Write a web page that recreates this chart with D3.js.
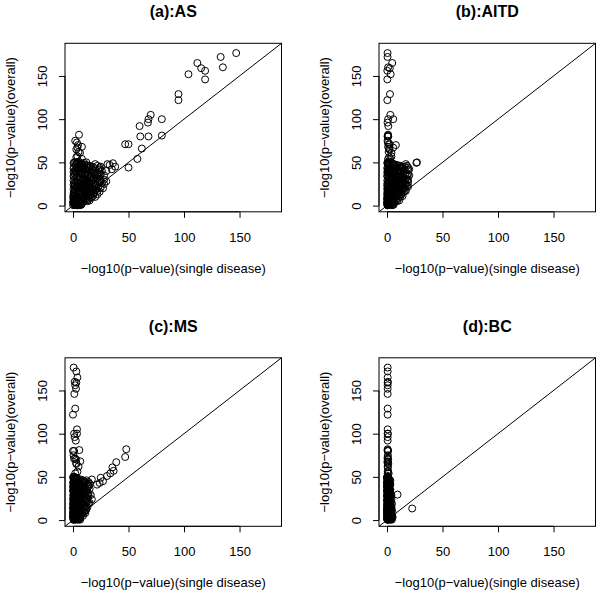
<!DOCTYPE html>
<html><head><meta charset="utf-8">
<script src="https://cdn.jsdelivr.net/npm/d3@7/dist/d3.min.js"></script>
<style>
body{margin:0;background:#fff}
svg text{font-family:"Liberation Sans",Arial,Helvetica,sans-serif;fill:#000}
</style>
</head><body>
<svg id="chart" width="601" height="595"></svg>
<script>
// -log10(p-value) for the overall test (same SNPs in every panel)
const overall = [
176.5,172,165,160,159,156,152,146,129,122,105,100,100,96,92,82,81,80,80,73,
75,71,71,70,67,68,66,65,61,62,57,56,54,54,51,49,50,49.5,49,48,44,47,42,45,40,45,43,41,47,29.5,13.4,
50,49,48,47,46,45,50,48,46,45,49,47,45,50,46,48,44,47,49,45,
44,43,42,41,40,44,43,42,41,40,44,43,42,41,40,43,41,42,40,44,
39,38,37,36,35,39,38,37,36,35,39,38,37,36,35,38,36,37,35,39,
34,33,32,31,30,34,33,32,31,30,34,33,32,31,30,33,31,32,30,34,
29,28,27,26,25,29,28,27,26,25,29,28,27,26,25,28,26,27,25,29,28,26,27,25,29,
24,23,22,21,20,24,23,22,21,20,24,23,22,21,20,23,21,22,20,24,23,21,22,20,24,
19,18,17,16,15,19,18,17,16,15,19,18,17,16,15,18,16,17,15,19,18,16,17,15,19,
14,13,12,11,10,14,13,12,11,10,14,13,12,11,10,13,11,12,10,14,13,11,12,10,14,
9,8,7,6,5,9,8,7,6,5,9,8,7,6,5,8,6,7,5,9,8,6,7,5,9,
4,3,2,1,0.5,4,3,2,1,0.5,4,3,2,1,0.5,3,1,2,0.5,4,3,1,2,0.3,4.5
];
// -log10(p-value) for each single disease
const singleAS = [
147,133,112,135,115.5,119,104,119,95,95,70,68,80,67.5,60,5.4,80,60.6,68,3.5,
2,47,50,4.5,4,8,62,3,6.3,5,4,3,58,8,5,3,12,10,36,31,50,33,35,38,30,6,4,5,3,10,6,
2,5,8,12,15,18,1,3,22,10,0.5,6,25,4,13,20,24,9,7,16,
1,3,6,9,12,14,17,20,23,26,4,8,11,15,19,0.5,2,24,7,13,
2,5,8,11,14,16,19,22,25,28,0.5,3,7,10,13,17,20,1,24,12,
1,4,7,10,13,16,19,22,25,28,0.5,3,6,9,12,15,18,21,24,11,
0.5,2,4,6,8,10,12,14,16,18,20,22,24,26,28,30,1,3,5,7,9,11,13,15,17,
0.5,1.5,3,5,7,9,11,13,15,17,19,21,23,25,27,2,4,6,8,10,12,14,16,18,20,
0.5,1.5,3,4.5,6,8,10,12,14,16,18,20,22,24,1,2,5,7,9,11,13,15,17,19,21,
0.5,1,2,3,4,5.5,7,8.5,10,11.5,13,14.5,16,18,20,22,0.3,1.5,2.5,6,9,12,15,17,19,
0.3,0.8,1.5,2.2,3,4,5,6,7,8,9,10,11,12,13,14,15,0.5,1.2,2.5,3.5,4.5,6.5,9.5,16,
0.2,0.5,0.8,1.2,1.6,2,2.5,3,3.5,4,4.5,5,5.5,6,6.5,7,7.5,8,0.1,0.3,1,1.8,2.8,3.8,9
];
const singleAITD = [
0.5,0.5,4.7,1,2.5,0.3,3.3,0.3,2.7,0.3,3,5.6,1,0.5,1.2,1,0.8,0.5,1.2,0.8,
0.5,2.5,1.5,8,5.6,1,2,2,4,1.5,4,2,1,3,2,1.5,27,26.5,1,5,2,2,1,3,2,3,2,3,2,4,3,
1,3,6,9,12,16,0.5,2,18,8,0.3,4,14,2,11,17,19,7,5,13,
0.5,2,4,7,10,12,14,16,19,1,3,6,8,11,15,0.3,1.5,20,5,9,
1,3,5,8,11,13,15,17,19,20,0.3,2,4,6,9,12,16,0.5,18,10,
0.5,2,4,6,9,11,13,15,17,19,0.2,1.5,3,5,8,10,12,14,16,7,
0.3,1,2.5,4,6,8,10,12,14,16,18,1.5,3,5,7,9,0.5,2,11,13,15,17,19,0.8,4.5,
0.2,1,2,3.5,5,7,9,11,13,15,17,18,0.5,1.5,3,4.5,6,8,10,12,14,16,19,0.8,2.5,
0.2,0.8,1.5,2.5,4,5.5,7,8.5,10,11.5,13,14.5,16,0.5,1.2,2,3,4.5,6,9,12,15,17,1,3.5,
0.2,0.6,1,1.5,2.2,3,4,5,6,7,8,9,10,11,12,13,14,0.4,0.8,1.8,2.6,3.5,4.5,5.5,6.5,
0.1,0.4,0.8,1.2,1.7,2.2,2.8,3.4,4,4.6,5.2,6,7,8,9,10,11,0.2,0.6,1,1.5,2,2.5,3,3.6,
0.1,0.3,0.5,0.8,1.1,1.4,1.8,2.2,2.6,3,3.4,3.8,4.2,4.6,5,5.5,6,0.2,0.6,1,1.5,2,2.4,0.4,6.5
];
const singleMS = [
0.6,3,4,1.5,3,2,2.7,1.2,2,0,3.6,1,3.6,1.5,2.5,48,5.7,0,1,47,
0.5,1,2,3,39,6.5,3,3,35.5,5,36.6,4,2,33.6,30.6,25,1,1.5,3,2,1,1,2,1.5,1,27,24,21.6,17,2,2,
0.5,2,4,7,9,1,0.3,1.5,12,5,0.2,3,10,1,6,0.8,14,4,2,8,
0.3,1,2,4,6,8,10,12,14,0.5,1.5,3,5,7,9,0.2,0.8,15,2.5,11,
0.5,1.5,3,5,7,9,11,13,15,2,0.2,1,2.5,4,6,8,10,0.3,12,14,
0.3,1,2,4,6,8,10,12,14,1.5,0.1,0.8,2.5,3.5,5,7,9,11,13,0.6,
0.2,0.6,1.2,2,3,4,5,6,7,8,9,10,11,12,13,14,0.4,0.9,1.5,2.5,3.5,4.5,5.5,6.5,16,
0.1,0.5,1,2,3,4,5,6,7,8,9,10,11,12,0.3,0.8,1.5,2.5,3.5,4.5,5.5,6.5,13,15,17,
0.1,0.4,0.8,1.3,2,3,4,5,6,7,8,9,10,11,0.2,0.6,1,1.6,2.5,3.5,4.5,5.5,12,13,14,
0.1,0.3,0.6,1,1.5,2,2.6,3.2,3.8,4.5,5.2,6,7,8,9,10,11,12,0.2,0.5,0.8,1.2,1.8,2.3,3,
0.1,0.3,0.5,0.8,1.1,1.4,1.8,2.2,2.6,3,3.5,4,4.5,5,5.5,6,7,8,9,10,11,0.2,0.6,1,1.6,
0.1,0.2,0.4,0.6,0.9,1.2,1.5,1.8,2.2,2.6,3,3.4,3.8,4.2,4.6,5,5.5,6,6.5,0.3,0.7,1,1.4,0.5,7
];
const singleBC = [
0.6,0.6,0.6,0.8,0.6,0.6,0.6,0.6,0.6,0.6,0.6,0.8,0.6,0.6,0.6,0.6,0.6,1,0.6,0.6,
0.8,0.6,0.7,1,0.6,0.5,0.6,1.2,0.8,0.6,1,0.7,0.6,1.5,0.8,1,0.5,0.6,0.5,1.2,0.6,0.5,0.6,0.4,0.5,0.5,0.6,0.8,0.4,9.5,22.7,
0.3,1,0.5,2,1.5,0.8,0.2,0.7,3,1.2,0.1,0.6,2.5,0.4,1.8,1,2.2,0.9,0.5,1.4,
0.2,0.5,1,1.5,2,0.8,1.2,2.5,3,0.4,0.6,1.1,1.8,0.9,2.2,0.1,0.3,2.8,0.7,1.4,
0.3,0.8,1.2,1.8,2.5,0.5,1,1.5,2,3,0.1,0.4,0.9,1.3,2.2,0.6,1.7,0.2,2.8,1.1,
0.2,0.6,1,1.5,2,2.5,0.8,1.2,1.8,3,0.1,0.4,0.7,1.1,1.6,2.2,0.5,0.9,1.4,0.3,
0.1,0.3,0.6,0.9,1.2,1.5,1.8,2.1,2.4,2.7,3,0.2,0.5,0.8,1.1,1.4,1.7,2,2.3,0.4,0.7,1,1.3,1.6,4,
0.1,0.3,0.5,0.8,1,1.3,1.6,2,2.4,2.8,3.2,0.2,0.4,0.6,0.9,1.1,1.4,1.8,2.2,2.6,0.7,1.2,1.7,3.5,4,
0.1,0.2,0.4,0.6,0.8,1,1.3,1.6,1.9,2.2,2.5,2.8,3.1,3.5,0.3,0.5,0.7,0.9,1.1,1.5,2,2.4,3,4,4.5,
0.1,0.2,0.3,0.5,0.7,0.9,1.1,1.4,1.7,2,2.3,2.6,3,3.4,3.8,4.2,0.15,0.4,0.6,0.8,1,1.3,1.6,1.9,2.2,
0.1,0.2,0.3,0.4,0.6,0.8,1,1.2,1.4,1.6,1.8,2,2.3,2.6,2.9,3.2,3.6,4,4.5,5,0.15,0.5,0.7,0.9,1.1,
0.05,0.1,0.2,0.3,0.5,0.7,0.9,1.1,1.3,1.5,1.8,2.1,2.4,2.7,3,3.3,3.6,4,4.4,4.8,5,0.15,0.4,0.6,1
];
const titles = ["(a):AS", "(b):AITD", "(c):MS", "(d):BC"];
const tickValues = [0, 50, 100, 150];
const axisLimits = [-7.2, 187.8];
const xTitle = "\u2212log10(p\u2212value)(single disease)";
const yTitle = "\u2212log10(p\u2212value)(overall)";

const seriesX = [singleAS, singleAITD, singleMS, singleBC];
const boxW = 216.5, boxH = 168.5;
const origins = [[65, 43.3], [379, 43.3], [65, 357.8], [379, 357.8]];

const svg = d3.select("#chart");
svg.append("rect").attr("width", 601).attr("height", 595).attr("fill", "#fff");

seriesX.forEach((xs, i) => {
  const [L, T] = origins[i];
  const x = d3.scaleLinear().domain(axisLimits).range([L, L + boxW]);
  const y = d3.scaleLinear().domain(axisLimits).range([T + boxH, T]);
  const g = svg.append("g");

  // points
  g.append("g").selectAll("circle")
    .data(overall.map((v, k) => [xs[k], v]))
    .join("circle")
    .attr("cx", d => x(d[0]))
    .attr("cy", d => y(d[1]))
    .attr("r", 3.5)
    .attr("fill", "none")
    .attr("stroke", "#000")
    .attr("stroke-width", 1);

  // y = x reference line
  g.append("line")
    .attr("x1", x(axisLimits[0])).attr("y1", y(axisLimits[0]))
    .attr("x2", x(axisLimits[1])).attr("y2", y(axisLimits[1]))
    .attr("stroke", "#000").attr("stroke-width", 1);

  // box
  g.append("rect")
    .attr("x", L).attr("y", T).attr("width", boxW).attr("height", boxH)
    .attr("fill", "none").attr("stroke", "#000").attr("stroke-width", 1);

  // x axis
  const ax = g.append("g").attr("transform", `translate(0,${T + boxH})`)
    .call(d3.axisBottom(x).tickValues(tickValues).tickSize(6).tickPadding(0).tickFormat(d3.format("d")));
  ax.select(".domain").attr("d", `M${x(0)},0H${x(150)}`).attr("stroke", "#000");
  ax.selectAll(".tick line").attr("stroke", "#000");
  ax.selectAll(".tick text").attr("y", 30).attr("dy", 0)
    .attr("font-size", 13).attr("font-family", "Liberation Sans, Arial, sans-serif");

  // y axis
  const ay = g.append("g").attr("transform", `translate(${L},0)`)
    .call(d3.axisLeft(y).tickValues(tickValues).tickSize(6).tickFormat(d3.format("d")));
  ay.select(".domain").attr("d", `M0,${y(0)}V${y(150)}`).attr("stroke", "#000");
  ay.selectAll(".tick line").attr("stroke", "#000");
  ay.selectAll(".tick text")
    .attr("x", null).attr("dy", null)
    .attr("transform", "translate(-18,0) rotate(-90)")
    .attr("text-anchor", "middle")
    .attr("font-size", 13).attr("font-family", "Liberation Sans, Arial, sans-serif");

  // titles
  g.append("text").attr("x", L + boxW / 2).attr("y", T - 26)
    .attr("text-anchor", "middle").attr("font-size", 16).attr("font-weight", "bold")
    .text(titles[i]);
  g.append("text").attr("x", L + boxW / 2).attr("y", T + boxH + 61)
    .attr("text-anchor", "middle").attr("font-size", 13)
    .text(xTitle);
  g.append("text")
    .attr("transform", `translate(${L - 50},${T + boxH / 2}) rotate(-90)`)
    .attr("text-anchor", "middle").attr("font-size", 13)
    .text(yTitle);
});
</script>
</body></html>
